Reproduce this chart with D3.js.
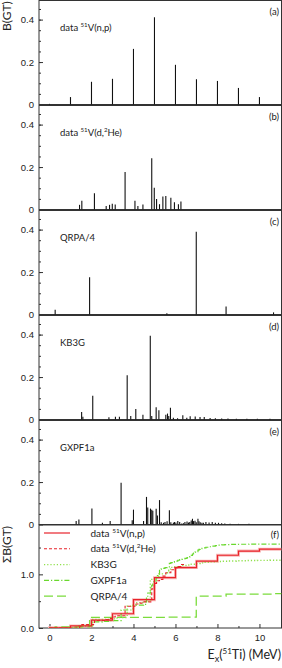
<!DOCTYPE html>
<html>
<head>
<meta charset="utf-8">
<script src="https://cdn.jsdelivr.net/npm/d3@7"></script>
<style>
  body { margin: 0; background: #fff; }
  svg { display: block; font-family: Lato, "Liberation Sans", sans-serif; }
  .tick text { font-size: 9.5px; fill: #222; }
  .domain { display: none; }
  .tick line { stroke: #333; }
  .frame { fill: none; stroke: #333; stroke-width: 1; }
  .bar { stroke: #111; stroke-width: 1.1; }
</style>
</head>
<body>
<svg id="chart" width="282" height="668"></svg>
<script>
// (a) 51V(n,p)
const npEnergy = [0, 1, 2, 3, 4, 5, 6, 7, 8, 9, 10];
const npStrength = [0.003, 0.035, 0.107, 0.121, 0.262, 0.411, 0.187, 0.119, 0.111, 0.078, 0.035];

// (b) 51V(d,2He)
const heEnergy = [1.43, 1.54, 2.14, 2.7, 2.86, 2.99, 3.13, 3.6, 4.07, 4.21, 4.45, 4.87, 4.99, 5.1, 5.24, 5.4, 5.54, 5.78, 5.95, 6.14, 6.26];
const heStrength = [0.022, 0.041, 0.077, 0.017, 0.022, 0.027, 0.023, 0.177, 0.041, 0.017, 0.023, 0.242, 0.102, 0.05, 0.025, 0.061, 0.064, 0.055, 0.034, 0.025, 0.038];

// (c) QRPA/4
const qrpaEnergy = [0.27, 1.91, 5.59, 6.99, 8.41, 10.67];
const qrpaStrength = [0.022, 0.175, 0.006, 0.39, 0.038, 0.01];

// (d) KB3G
const kb3gEnergy = [1.53, 1.59, 2.06, 2.83, 3.14, 3.33, 3.7, 3.87, 4.11, 4.45, 4.8, 4.87, 5.08, 5.21, 5.54, 5.62, 5.68, 5.76, 5.9, 6.1, 6.35, 6.54, 6.7, 6.94, 7.17, 7.37, 7.65, 7.9, 8.2, 8.5, 8.9, 9.4, 9.9, 10.5];
const kb3gStrength = [0.035, 0.013, 0.112, 0.011, 0.013, 0.013, 0.209, 0.017, 0.05, 0.022, 0.395, 0.017, 0.058, 0.044, 0.022, 0.028, 0.017, 0.055, 0.008, 0.006, 0.02, 0.008, 0.015, 0.014, 0.012, 0.012, 0.007, 0.006, 0.005, 0.005, 0.004, 0.004, 0.003, 0.003];

// (e) GXPF1a
const gxEnergy = [1.27, 1.4, 2.02, 2.52, 2.89, 3.41, 3.94, 4.0, 4.48, 4.62, 4.68, 4.81, 4.87, 4.92, 5.08, 5.14, 5.24, 5.32, 5.43, 5.5, 5.6, 5.71, 5.78, 5.9, 5.95, 6.02, 6.11, 6.2, 6.3, 6.38, 6.45, 6.55, 6.62, 6.68, 6.75, 6.81, 6.86, 6.93, 6.99, 7.07, 7.12, 7.18, 7.26, 7.33, 7.45, 7.6, 7.75, 7.9, 8.05, 8.2, 8.35, 8.6, 9.0, 9.5];
const gxStrength = [0.016, 0.024, 0.075, 0.008, 0.016, 0.197, 0.02, 0.07, 0.016, 0.13, 0.08, 0.075, 0.07, 0.065, 0.074, 0.042, 0.115, 0.011, 0.008, 0.012, 0.015, 0.067, 0.011, 0.008, 0.012, 0.01, 0.016, 0.012, 0.005, 0.006, 0.012, 0.014, 0.009, 0.012, 0.019, 0.027, 0.016, 0.018, 0.011, 0.027, 0.015, 0.011, 0.008, 0.008, 0.012, 0.01, 0.012, 0.008, 0.008, 0.006, 0.005, 0.004, 0.003, 0.003];

const panelTags = ["(a)", "(b)", "(c)", "(d)", "(e)", "(f)"];
const panelNames = [
  ["data ", "51", "V(n,p)"],
  ["data ", "51", "V(d,", "2", "He)"],
  ["QRPA/4"],
  ["KB3G"],
  ["GXPF1a"],
];
const bTicks = [0, 0.2, 0.4];
const sumTicks = [0, 1];
const energyTicks = [0, 2, 4, 6, 8, 10];

const svg = d3.select("#chart");
const left = 39;
const right = 281.5;
const panelHeight = 105;

const xScale = d3.scaleLinear().domain([-0.5, 11.05]).range([left, right]);

function addRichText(g, parts, x, y, size) {
  const text = g.append("text").attr("x", x).attr("y", y).attr("font-size", size).attr("fill", "#222");
  // parts alternate: normal, superscript, normal ...
  parts.forEach((p, i) => {
    const sup = i % 2 === 1;
    text
      .append("tspan")
      .text(p)
      .attr("font-size", sup ? size * 0.65 : size)
      .attr("dy", sup ? -size * 0.4 : i > 0 ? size * 0.4 : 0);
  });
  return text;
}

const spectra = [
  [npEnergy, npStrength],
  [heEnergy, heStrength],
  [qrpaEnergy, qrpaStrength],
  [kb3gEnergy, kb3gStrength],
  [gxEnergy, gxStrength],
];

spectra.forEach(([energy, strength], i) => {
  const top = i * panelHeight;
  const yScale = d3.scaleLinear().domain([0, 0.49]).range([top + 104.5, top + 0.5]);
  const g = svg.append("g");

  g.append("rect")
    .attr("class", "frame")
    .attr("x", left)
    .attr("y", top + 0.5)
    .attr("width", right - left)
    .attr("height", 104);

  g.append("g")
    .attr("transform", "translate(" + left + ", 0)")
    .call(d3.axisLeft(yScale).tickValues(d3.range(0.05, 0.46, 0.05)).tickSize(-2).tickFormat(""));
  g.append("g")
    .attr("transform", "translate(" + left + ", 0)")
    .call(
      d3.axisLeft(yScale)
        .tickValues(bTicks)
        .tickSize(-4)
        .tickPadding(5)
        .tickFormat((d) => (d === 0 ? "0" : d3.format(".1f")(d)))
    );

  g.selectAll(".bar")
    .data(energy)
    .enter()
    .append("line")
    .attr("class", "bar")
    .attr("x1", (d) => xScale(d))
    .attr("x2", (d) => xScale(d))
    .attr("y1", yScale(0))
    .attr("y2", (d, j) => yScale(strength[j]));

  g.append("text")
    .text(panelTags[i])
    .attr("x", 279)
    .attr("y", top + 15)
    .attr("text-anchor", "end")
    .attr("font-size", 9.5)
    .attr("fill", "#222");

  addRichText(g, panelNames[i], 60, top + 31, 9.5);
});

// (f) running sums
const fTop = 525;
const fBottom = 628;
const ySum = d3.scaleLinear().domain([0, 1.92]).range([fBottom, fTop]);
const f = svg.append("g");

f.append("rect")
  .attr("class", "frame")
  .attr("x", left)
  .attr("y", fTop)
  .attr("width", right - left)
  .attr("height", fBottom - fTop);

f.append("g")
  .attr("transform", "translate(" + left + ", 0)")
  .call(d3.axisLeft(ySum).tickValues([0.5, 1.5]).tickSize(-2).tickFormat(""));
f.append("g")
  .attr("transform", "translate(" + left + ", 0)")
  .call(d3.axisLeft(ySum).tickValues(sumTicks).tickSize(-4).tickPadding(5));
f.append("g")
  .attr("transform", "translate(0, " + fBottom + ")")
  .call(d3.axisBottom(xScale).tickValues([1, 3, 5, 7, 9]).tickSize(-2).tickFormat(""));
f.append("g")
  .attr("transform", "translate(0, " + fBottom + ")")
  .call(d3.axisBottom(xScale).tickValues(energyTicks).tickSize(-4).tickPadding(6));

function stepPoints(energy, strength, end) {
  const cum = Array.from(d3.cumsum(strength));
  return [[0, 0], ...energy.map((e, i) => [e, cum[i]]), [end, cum[cum.length - 1]]];
}

const stepLine = d3
  .line()
  .x((d) => xScale(d[0]))
  .y((d) => ySum(d[1]))
  .curve(d3.curveStepAfter);

const sums = [
  { pts: stepPoints(npEnergy, npStrength, 11.05), color: "#e8232a", dash: null, width: 1.2, band: true },
  { pts: stepPoints(heEnergy, heStrength, 6.5), color: "#e8232a", dash: "3,2", width: 1.1 },
  { pts: stepPoints(kb3gEnergy, kb3gStrength, 11.05), color: "#8fe04a", dash: "1.2,2", width: 1.4 },
  { pts: stepPoints(gxEnergy, gxStrength, 11.05), color: "#6ad82e", dash: "5,2,1.2,2", width: 1.2 },
  { pts: stepPoints(qrpaEnergy, qrpaStrength, 11.05), color: "#7bdc3c", dash: "9,4", width: 1.3 },
];

svg
  .append("clipPath")
  .attr("id", "clip-f")
  .append("rect")
  .attr("x", left)
  .attr("y", fTop)
  .attr("width", right - left)
  .attr("height", fBottom - fTop);

const linesG = f.append("g").attr("clip-path", "url(#clip-f)");

sums.forEach((s) => {
  if (s.band) {
    linesG.append("path")
      .attr("d", stepLine(s.pts))
      .attr("fill", "none")
      .attr("stroke", "#f9bcbc")
      .attr("stroke-width", 3);
  }
});
sums.slice().reverse().forEach((s) => {
  linesG.append("path")
    .attr("d", stepLine(s.pts))
    .attr("fill", "none")
    .attr("stroke", s.color)
    .attr("stroke-width", s.width)
    .attr("stroke-dasharray", s.dash);
});

const legendNames = [
  ["data ", "51", "V(n,p)"],
  ["data ", "51", "V(d,", "2", "He)"],
  ["KB3G"],
  ["GXPF1a"],
  ["QRPA/4"],
];

sums.forEach((s, i) => {
  const y = 533 + i * 15.8;
  f.append("line")
    .attr("x1", 44)
    .attr("x2", 70)
    .attr("y1", y)
    .attr("y2", y)
    .attr("stroke", s.color)
    .attr("stroke-width", s.width)
    .attr("stroke-dasharray", s.dash);
  addRichText(f, legendNames[i], 90.5, y + 3.5, 10);
});

f.append("text")
  .text(panelTags[5])
  .attr("x", 279)
  .attr("y", fTop + 13)
  .attr("text-anchor", "end")
  .attr("font-size", 9.5)
  .attr("fill", "#222");

// axis titles
svg.append("text")
  .text("B(GT)")
  .attr("transform", "translate(11, 31) rotate(-90)")
  .attr("font-size", 12)
  .attr("fill", "#222");

svg.append("text")
  .text("ΣB(GT)")
  .attr("transform", "translate(11, 563) rotate(-90)")
  .attr("font-size", 12)
  .attr("fill", "#222");

const xTitle = svg.append("text").attr("x", 281).attr("y", 658.5).attr("text-anchor", "end").attr("font-size", 12.5).attr("fill", "#222");
xTitle.append("tspan").text("E");
xTitle.append("tspan").text("x").attr("font-size", 9).attr("dy", 3);
xTitle.append("tspan").text("(").attr("dy", -3);
xTitle.append("tspan").text("51").attr("font-size", 8).attr("dy", -5);
xTitle.append("tspan").text("Ti) (MeV)").attr("dy", 5);
</script>
</body>
</html>
